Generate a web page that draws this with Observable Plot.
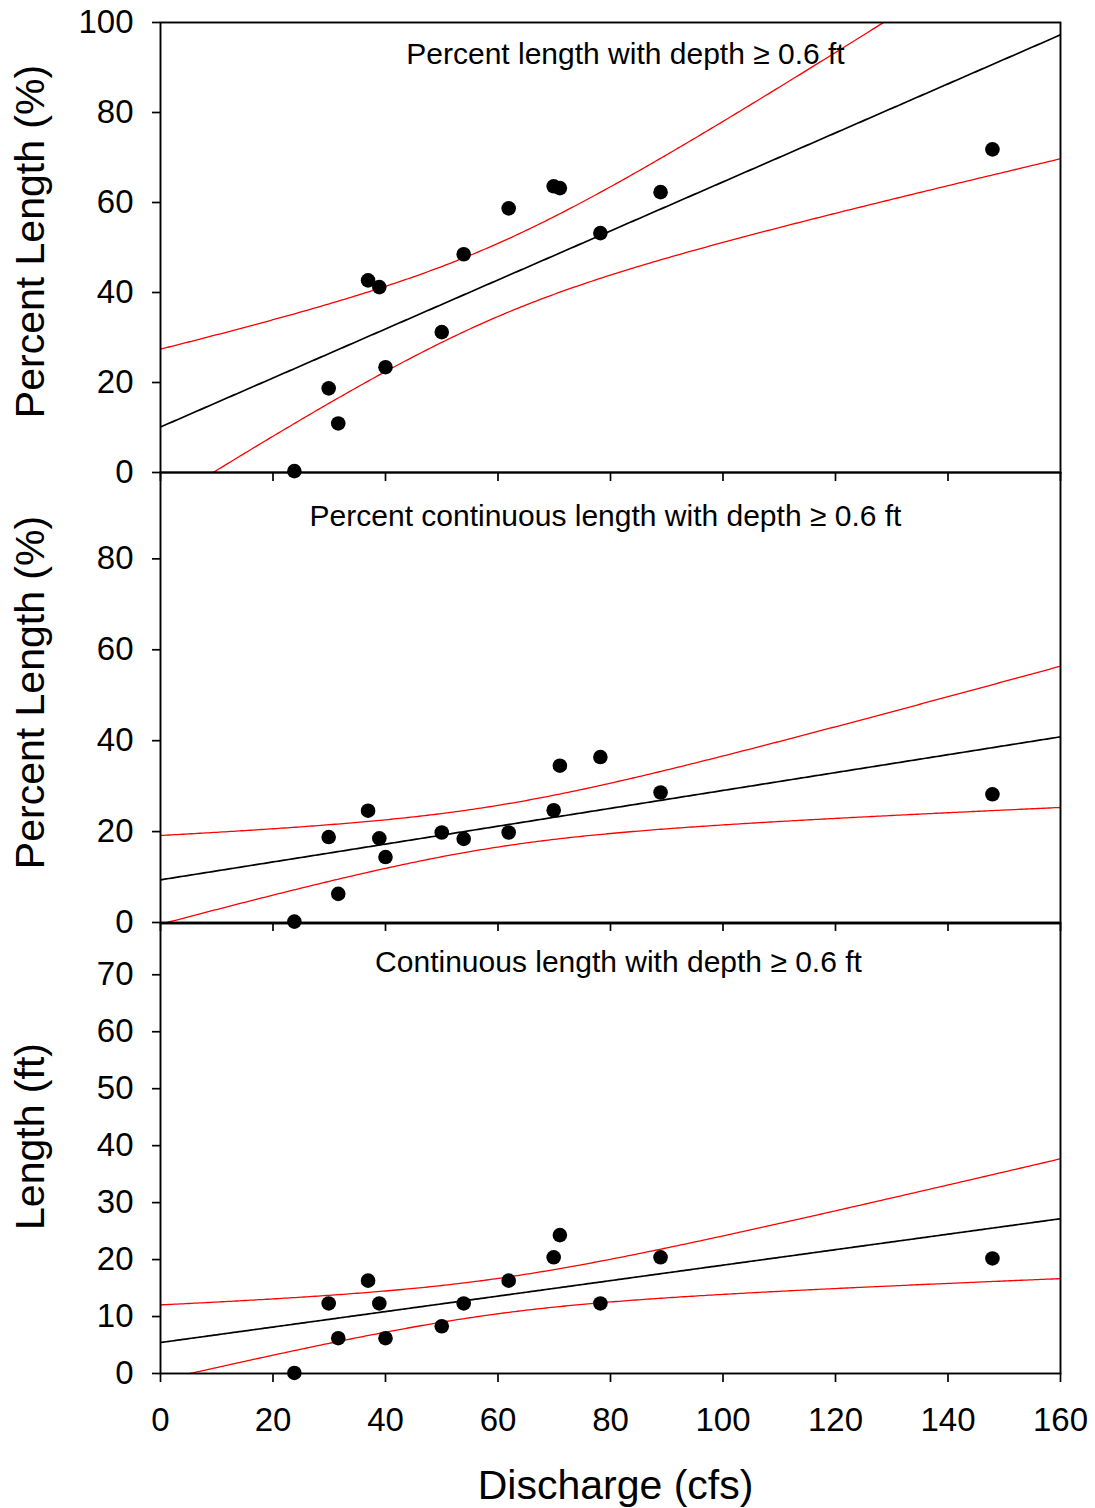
<!DOCTYPE html>
<html><head><meta charset="utf-8">
<script src="https://cdn.jsdelivr.net/npm/d3@7"></script>
<script src="https://cdn.jsdelivr.net/npm/@observablehq/plot@0.6"></script>
<style>
body{margin:0;background:#fff;}
#chart{position:relative;width:1095px;height:1508px;}
#chart svg{position:absolute;left:0;overflow:visible;}
</style></head><body><div id="chart"></div>
<script>
// Discharge (cfs) for each survey, shared by the three panels
const discharge = [23.8, 29.9, 31.6, 36.9, 38.9, 40.0, 50.0, 53.9, 61.9, 69.9, 71.0, 78.2, 88.9, 147.9];
// Panel values
const pctLength = [0.3, 18.7, 10.9, 42.7, 41.2, 23.4, 31.2, 48.5, 58.7, 63.6, 63.2, 53.2, 62.3, 71.8];
const pctContinuous = [0.2, 18.8, 6.3, 24.6, 18.5, 14.4, 19.8, 18.4, 19.8, 24.7, 34.5, 36.4, 28.6, 28.2];
const contLength = [0.1, 12.3, 6.2, 16.3, 12.3, 6.2, 8.3, 12.3, 16.3, 20.4, 24.3, 12.3, 20.4, 20.2];

const titles = ["Percent length with depth \u2265 0.6 ft",
                "Percent continuous length with depth \u2265 0.6 ft",
                "Continuous length with depth \u2265 0.6 ft"];
const yLabels = ["Percent Length (%)", "Percent Length (%)", "Length (ft)"];
const xTicks = [0, 20, 40, 60, 80, 100, 120, 140, 160];
const yTicks1 = [0, 20, 40, 60, 80, 100];
const yTicks2 = [0, 20, 40, 60, 80];
const yTicks3 = [0, 10, 20, 30, 40, 50, 60, 70];
const xLabel = "Discharge (cfs)";

const FONT = "'Liberation Sans', Arial, Helvetica, sans-serif";

// Least-squares line with 95% confidence band for the mean (n-2 = 12 df)
function regression(xs, ys) {
  const n = xs.length, mx = d3.mean(xs), my = d3.mean(ys);
  let sxx = 0, sxy = 0;
  for (let i = 0; i < n; i++) { sxx += (xs[i]-mx)**2; sxy += (xs[i]-mx)*(ys[i]-my); }
  const b = sxy / sxx, a = my - b * mx;
  let sse = 0;
  for (let i = 0; i < n; i++) sse += (ys[i] - (a + b*xs[i]))**2;
  const s = Math.sqrt(sse / (n - 2)), t = 2.179;
  return d3.range(0, 160.5, 0.5).map(x => {
    const f = a + b * x, h = t * s * Math.sqrt(1/n + (x-mx)**2 / sxx);
    return {x, fit: f, lo: f - h, hi: f + h};
  });
}

function panel(o) {
  const pts = discharge.map((x, i) => ({x, y: o.ys[i]}));
  const band = regression(discharge, o.ys);
  const marks = [
    Plot.line(band, {x: "x", y: "hi", stroke: "#ff0000", strokeWidth: 1.3, clip: true}),
    Plot.line(band, {x: "x", y: "lo", stroke: "#ff0000", strokeWidth: 1.3, clip: true}),
    Plot.line(band, {x: "x", y: "fit", stroke: "#000", strokeWidth: 1.7, clip: true}),
    Plot.dot(pts, {x: "x", y: "y", r: 7.3, fill: "#000", stroke: "none"}),
    Plot.frame({stroke: "#000", strokeWidth: 1.9}),
    Plot.axisY({ticks: o.yTicks, tickSize: 8, tickPadding: 19, fontSize: 33, strokeWidth: 1.7, label: null}),
    Plot.axisX({ticks: xTicks, tickSize: 9, tickPadding: 25, fontSize: 33, strokeWidth: 1.7, label: null,
                tickFormat: o.xLabels ? (d => d) : (() => "")}),
    Plot.text([o.title], {frameAnchor: "top", dx: o.tdx, dy: o.tdy, lineAnchor: "middle", fontSize: 30, fill: "#000"}),
    Plot.text([o.ylabel], {frameAnchor: "left", rotate: -90, dx: -130, dy: o.ldy, lineAnchor: "middle", textAnchor: "middle", fontSize: 41, fill: "#000"})
  ];
  if (o.xLabels) marks.push(Plot.text([xLabel], {frameAnchor: "bottom", dx: 5, dy: 112, lineAnchor: "middle", fontSize: 41, fill: "#000"}));
  const svg = Plot.plot({
    width: 1095, height: o.height,
    marginLeft: 160, marginRight: 35, marginTop: o.mt, marginBottom: o.mb,
    style: {background: "transparent", overflow: "visible", fontFamily: FONT, color: "#000"},
    x: {domain: [0, 160]},
    y: {domain: o.domain},
    marks
  });
  svg.style.top = o.top + "px";
  document.getElementById("chart").appendChild(svg);
}

panel({ys: pctLength, domain: [0, 100], yTicks: yTicks1, title: titles[0], ylabel: yLabels[0],
       top: 0, mt: 22, mb: 10, height: 482, tdx: 15, tdy: 32, ldy: -6, xLabels: false});
panel({ys: pctContinuous, domain: [0, 99], yTicks: yTicks2, title: titles[1], ylabel: yLabels[1],
       top: 472, mt: 0, mb: 10, height: 460, tdx: -5, tdy: 44, ldy: -5, xLabels: false});
panel({ys: contLength, domain: [0, 79], yTicks: yTicks3, title: titles[2], ylabel: yLabels[2],
       top: 923, mt: 0, mb: 135, height: 585, tdx: 8, tdy: 39, ldy: -12, xLabels: true});
</script></body></html>
